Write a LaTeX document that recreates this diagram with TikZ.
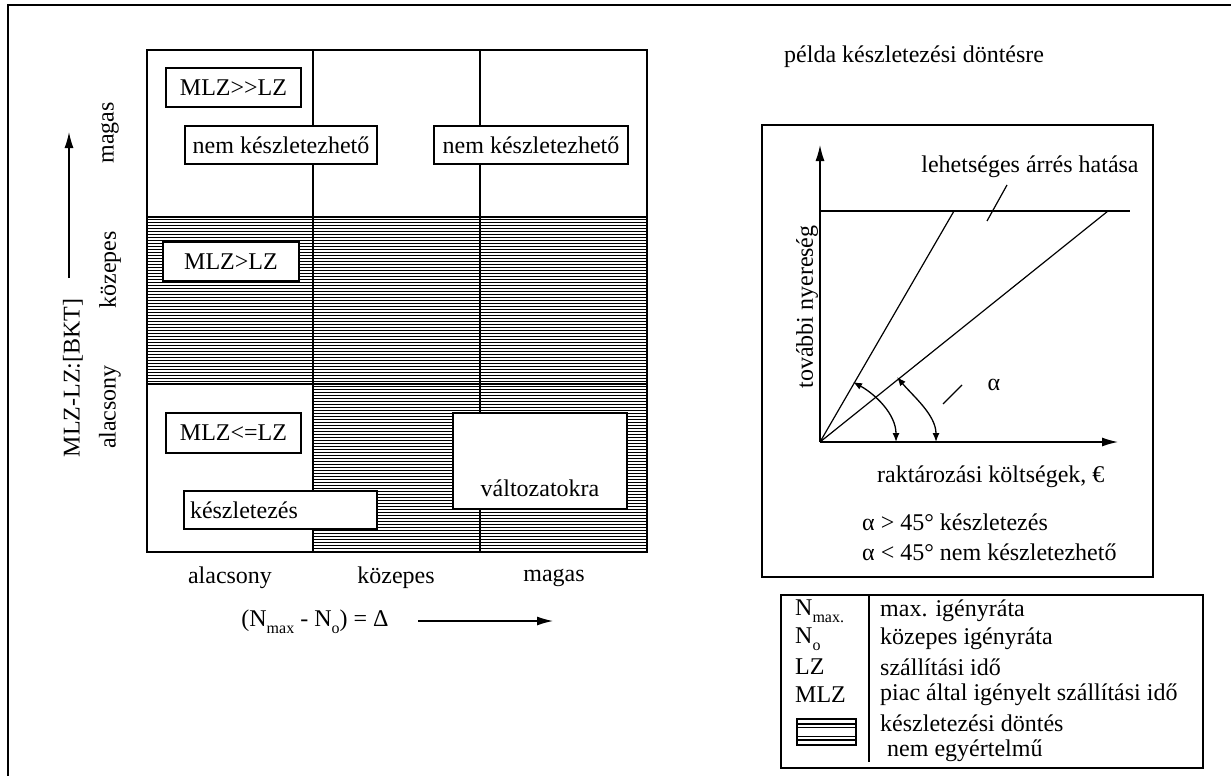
\documentclass[tikz,border=0pt]{standalone}
\usepackage{fontspec}
\setmainfont{Liberation Serif}
\usetikzlibrary{arrows.meta}
\newcommand\lowidx[1]{\raisebox{-0.28em}{\fontsize{16}{16}\selectfont #1}}
\begin{document}
\begin{tikzpicture}[x=1pt,y=-1pt,
  font=\fontsize{24}{28}\selectfont,
  frameline/.style={line width=2.4pt},
  gridline/.style={line width=2pt},
  hatchline/.style={line width=0.9pt},
  tagbox/.style={draw, line width=1.3pt, fill=white, inner sep=0pt},
  plain/.style={inner sep=0pt},
  bigtip/.style={-{Latex[length=16pt,width=9pt]}, line width=1.3pt},
  smalltip/.style={{Latex[length=9pt,width=7pt]}-{Latex[length=9pt,width=7pt]}, line width=1.3pt},
  thin/.style={line width=1.2pt}]
\useasboundingbox (0,0) rectangle (1231,776);

% page frame (only top and left edges fall inside the page)
\draw[frameline] (8,790) -- (8,5) -- (1240,5);

% ---------- decision grid ----------
\newcommand\hatchcell[4]{%
  \begin{scope}
    \clip (#1,#2) rectangle (#3,#4);
    \foreach \k in {0,...,57}{\draw[hatchline] (#1,#2+2.5+3*\k) -- (#3,#2+2.5+3*\k);}
  \end{scope}}
\hatchcell{147}{217}{647}{384}
\hatchcell{313}{384}{647}{552}
\draw[gridline] (147,50) rectangle (647,552);
\draw[gridline] (313,50) -- (313,552);
\draw[gridline] (480,50) -- (480,552);
\draw[gridline] (147,217) -- (647,217);
\draw[gridline] (147,384) -- (647,384);

\node[tagbox, minimum width=135, minimum height=39] (t1) at (233.5,87.5) {MLZ>{}>LZ};
\node[tagbox, minimum width=192, minimum height=38] (t2) at (281,145) {nem készletezhető};
\node[tagbox, minimum width=194, minimum height=38] (t3) at (531,145) {nem készletezhető};
\node[tagbox, minimum width=136, minimum height=39] (t4) at (231,261.5) {MLZ>LZ};
\node[tagbox, minimum width=135, minimum height=40] (t5) at (233.5,433) {MLZ<=LZ};
\node[tagbox, minimum width=193, minimum height=38, text width=181, inner xsep=6, align=left] (t6) at (280.5,510) {készletezés};
\node[tagbox, minimum width=174, minimum height=96] (t7) at (540,461) {};
\node[plain] (t7txt) at (540,488) {változatokra};

% axis labels of the grid
\node[plain] (bx1) at (230,578) {alacsony};
\node[plain] (bx2) at (396,578) {közepes};
\node[plain] (bx3) at (554,578) {magas};
\node[plain, rotate=90] (ly1) at (110,133) {magas};
\node[plain, rotate=90] (ly2) at (110,270) {közepes};
\node[plain, rotate=90] (ly3) at (110,407) {alacsony};

\node[plain, rotate=90] (ylab) at (73,378) {MLZ-LZ:[BKT]};
\coordinate (ya) at (69,278);
\coordinate (yb) at (69,132);
\draw[bigtip] (ya) -- (yb);

\node[plain] (xlab) at (315,622) {(N\lowidx{max} - N\lowidx{o}) = Δ};
\coordinate (xa) at (418,621);
\coordinate (xb) at (553,621);
\draw[bigtip] (xa) -- (xb);

% ---------- example chart ----------
\node[plain, anchor=west] (title) at (784,57) {példa készletezési döntésre};
\draw[line width=1.8pt] (762,125) rectangle (1153,577);

\coordinate (o) at (820,442);
\coordinate (ytop) at (820,145);
\coordinate (xend) at (1118,442);
\coordinate (capl) at (820,211);
\coordinate (capr) at (1130,211);
\coordinate (r1) at (954,211);
\coordinate (r2) at (1108,211);
\draw[bigtip] (o) -- (ytop);
\draw[bigtip] (o) -- (xend);
\draw[thin] (capl) -- (capr);
\draw[thin] (o) -- (r1);
\draw[thin] (o) -- (r2);

\node[plain] (margin) at (1030,167) {lehetséges árrés hatása};
\coordinate (m1) at (1007,185);
\coordinate (m2) at (987,221);
\draw[thin] (m1) -- (m2);

\node[plain] (alpha) at (994,385) {α};
\coordinate (al1) at (962,385);
\coordinate (al2) at (943,404);
\draw[thin] (al1) -- (al2);

\draw[smalltip] (853,382) .. controls (875,394) and (896,414) .. (896,442);
\draw[smalltip] (897,377) .. controls (913,396) and (936,415) .. (936,442);

\node[plain, rotate=90] (ychart) at (807,307) {további nyereség};
\node[plain, anchor=west] (xchart) at (877,477) {raktározási költségek, €};
\node[plain, anchor=west] (rule1) at (862,522) {α > 45° készletezés};
\node[plain, anchor=west] (rule2) at (862,552) {α < 45° nem készletezhető};

% ---------- legend ----------
\draw[line width=1.8pt] (781,595) rectangle (1203,768);
\draw[line width=1.5pt] (869,595) -- (869,762);
\node[plain, anchor=west] (k1) at (795,611) {N\lowidx{max.}};
\node[plain, anchor=west] (k2) at (795,639) {N\lowidx{o}};
\node[plain, anchor=west] (k3) at (795,667) {LZ};
\node[plain, anchor=west] (k4) at (795,695) {MLZ};
\node[plain, anchor=west] (v1) at (880,611) {max. igényráta};
\node[plain, anchor=west] (v2) at (880,639) {közepes igényráta};
\node[plain, anchor=west] (v3) at (880,667) {szállítási idő};
\node[plain, anchor=west] (v4) at (880,695) {piac által igényelt szállítási idő};
\node[plain, anchor=west] (v5) at (880,723) {készletezési döntés};
\node[plain, anchor=west] (v6) at (887,751) {nem egyértelmű};
% hatch symbol
\draw[line width=1.3pt] (797,719) rectangle (856,745);
\foreach \yy in {724,727.5,736.5,740}{\draw[line width=1.1pt] (797,\yy) -- (856,\yy);}
\end{tikzpicture}
\end{document}
